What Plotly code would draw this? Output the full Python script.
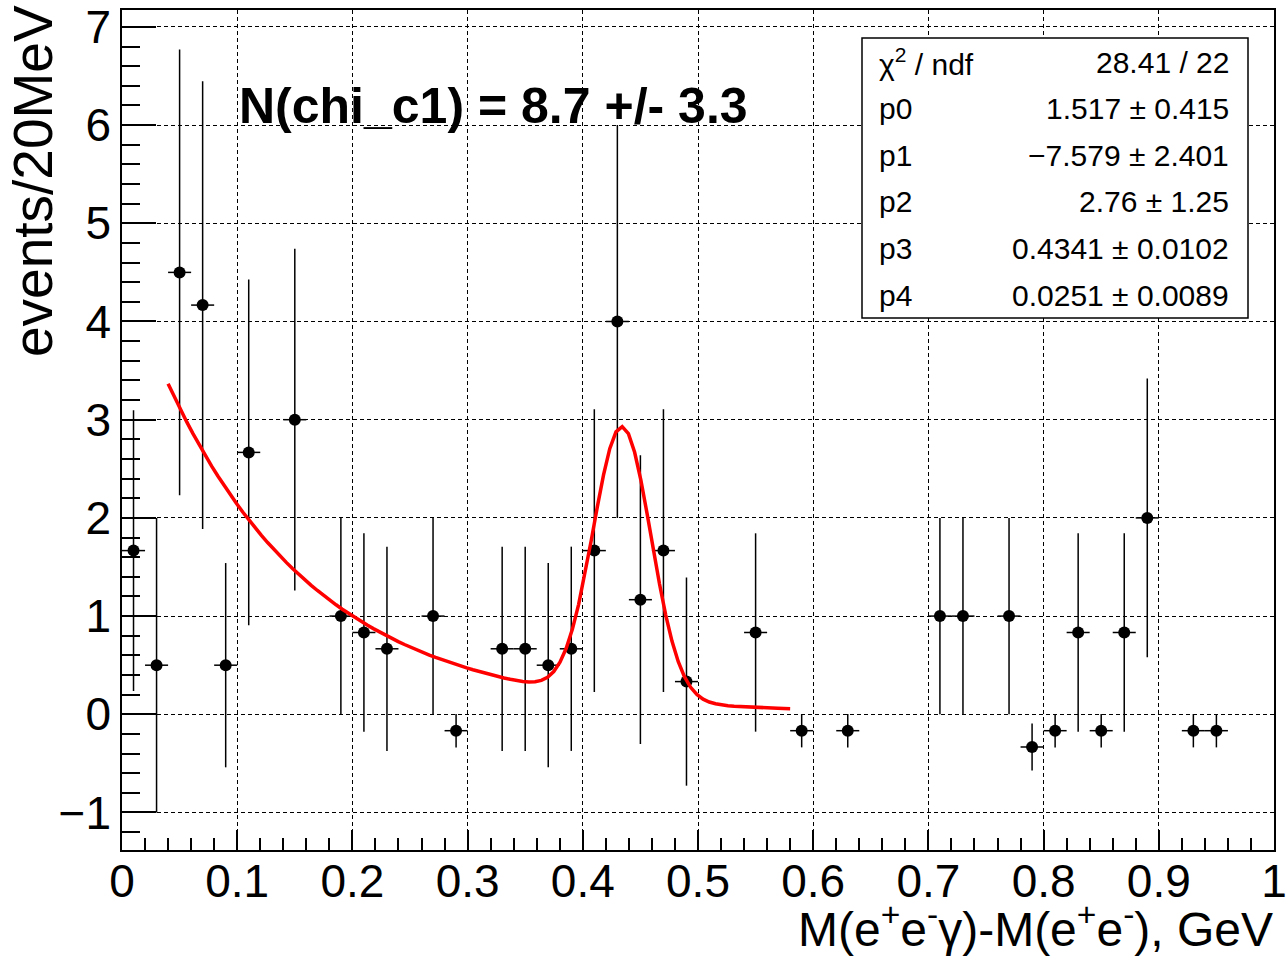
import numpy as np
import plotly.graph_objects as go

# ---- data ----
bin_centers = [0.01, 0.03, 0.05, 0.07, 0.09, 0.11, 0.15, 0.19, 0.21, 0.23, 0.27, 0.29,
               0.33, 0.35, 0.37, 0.39, 0.41, 0.43, 0.45, 0.47, 0.49, 0.55, 0.59, 0.63,
               0.71, 0.73, 0.77, 0.79, 0.81, 0.83, 0.85, 0.87, 0.89, 0.93, 0.95]
events = [1.667, 0.5, 4.5, 4.167, 0.5, 2.667, 3.0, 1.0, 0.833, 0.667, 1.0, -0.167,
          0.667, 0.667, 0.5, 0.667, 1.667, 4.0, 1.167, 1.667, 0.333, 0.833, -0.167, -0.167,
          1.0, 1.0, 1.0, -0.333, -0.167, 0.833, -0.167, 0.833, 2.0, -0.167, -0.167]
errors = [1.43, 1.5, 2.27, 2.28, 1.04, 1.76, 1.74, 1.0, 1.01, 1.04, 1.0, 0.17,
          1.04, 1.04, 1.04, 1.04, 1.44, 2.0, 1.47, 1.44, 1.06, 1.01, 0.17, 0.17,
          1.0, 1.0, 1.0, 0.24, 0.17, 1.01, 0.17, 1.01, 1.42, 0.17, 0.17]
half_bin = 0.01

# fit parameters (from stats box)
p0, p1, p2, p3, p4 = 1.517, -7.579, 2.76, 0.4341, 0.0251
fit_range = (0.04, 0.58)
stats_labels = ["χ<sup>2</sup> / ndf", "p0", "p1", "p2", "p3", "p4"]
stats_values = ["28.41 / 22", "1.517 ± 0.415", "−7.579 ± 2.401", "2.76 ± 1.25",
                "0.4341 ± 0.0102", "0.0251 ± 0.0089"]

FONT = "Liberation Sans, Arial, sans-serif"

fx = np.linspace(fit_range[0], fit_range[1], 101)
fy = np.exp(p0 + p1 * fx) + p2 * np.exp(-0.5 * ((fx - p3) / p4) ** 2)

fig = go.Figure()
fig.add_trace(go.Scatter(
    x=bin_centers, y=events, mode="markers",
    marker=dict(color="black", size=12, symbol="circle"),
    error_y=dict(type="data", array=errors, color="black", thickness=1.5, width=0),
    error_x=dict(type="constant", value=half_bin, color="black", thickness=1.5, width=0),
))
fig.add_trace(go.Scatter(x=fx, y=fy, mode="lines",
                         line=dict(color="#ff0000", width=3.5)))

W, H = 1287, 957
ml, mr, mt, mb = 122, 13, 10, 107
pw, ph = W - ml - mr, H - mt - mb

def px2paper_x(px):
    return (px - ml) / pw

def px2paper_y(py):
    return (H - mb - py) / ph

fig.update_layout(
    width=W, height=H,
    margin=dict(l=ml, r=mr, t=mt, b=mb, autoexpand=False),
    paper_bgcolor="white", plot_bgcolor="white",
    showlegend=False,
    font=dict(family=FONT, color="black"),
    xaxis=dict(range=[0, 1], dtick=0.1, tick0=0, ticks="inside", ticklen=20, tickwidth=1.5,
               tickcolor="black", showline=True, linecolor="black", linewidth=1.5, mirror=True,
               showgrid=True, gridcolor="black", gridwidth=1, griddash="4px,3px",
               zeroline=False, tickfont=dict(size=46, family=FONT), automargin=False,
               ticklabelstandoff=-10,
               minor=dict(dtick=0.02, ticklen=12, ticks="inside", tickcolor="black",
                          tickwidth=1.5, showgrid=False)),
    yaxis=dict(range=[-1.382, 7.172], dtick=1, tick0=0, ticks="inside", ticklen=34, tickwidth=1.5,
               tickcolor="black", showline=True, linecolor="black", linewidth=1.5, mirror=True,
               showgrid=True, gridcolor="black", gridwidth=1, griddash="4px,3px",
               zeroline=False, tickfont=dict(size=46, family=FONT), automargin=False,
               minor=dict(dtick=0.2, ticklen=18, ticks="inside", tickcolor="black",
                          tickwidth=1.5, showgrid=False)),
)

annotations = []
# y title
annotations.append(dict(text="events/20MeV", xref="paper", yref="paper",
                        x=px2paper_x(33), y=px2paper_y(3), xanchor="center", yanchor="top",
                        textangle=-90, showarrow=False, font=dict(size=55, family=FONT)))
# x title
annotations.append(dict(text="M(e<sup>+</sup>e<sup>-</sup>γ)-M(e<sup>+</sup>e<sup>-</sup>), GeV",
                        xref="paper", yref="paper", x=px2paper_x(1275), y=px2paper_y(926),
                        xanchor="right", yanchor="middle", showarrow=False,
                        font=dict(size=48, family=FONT)))
# N(chi_c1) text
annotations.append(dict(text="<b>N(chi_c1) = 8.7 +/- 3.3</b>", xref="paper", yref="paper",
                        x=px2paper_x(237), y=px2paper_y(106), xanchor="left", yanchor="middle",
                        showarrow=False, font=dict(size=50, family=FONT)))
# stats box
row_centers = [62, 108, 155, 202, 248, 295]
for lab, val, cy in zip(stats_labels, stats_values, row_centers):
    annotations.append(dict(text=lab, xref="paper", yref="paper", x=px2paper_x(877),
                            y=px2paper_y(cy), xanchor="left", yanchor="middle", showarrow=False,
                            font=dict(size=30, family=FONT)))
    annotations.append(dict(text=val, xref="paper", yref="paper", x=px2paper_x(1231),
                            y=px2paper_y(cy), xanchor="right", yanchor="middle", showarrow=False,
                            font=dict(size=30, family=FONT)))
fig.update_layout(annotations=annotations)
fig.add_shape(type="rect", xref="paper", yref="paper",
              x0=px2paper_x(862), x1=px2paper_x(1248), y0=px2paper_y(318), y1=px2paper_y(38),
              line=dict(color="black", width=1.5), fillcolor="white", layer="above")

fig.write_html("out.html")
